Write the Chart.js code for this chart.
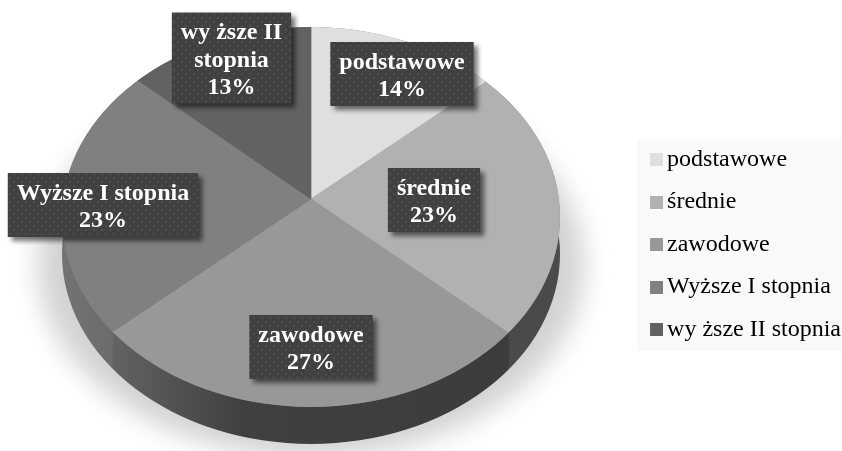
<!DOCTYPE html>
<html><head><meta charset="utf-8">
<style>html,body{margin:0;padding:0;background:#fff}#w{width:842px;height:451px;position:relative}</style>
<script src="https://cdn.jsdelivr.net/npm/chart.js@4"></script>
</head><body><div id="w"><canvas id="c" width="842" height="451"></canvas></div>
<script>
const categories = ['podstawowe', 'średnie', 'zawodowe', 'Wyższe I stopnia', 'wy ższe II stopnia'];
const shares = [13.6, 22.9, 27.1, 23, 13.4];
const labelLines = [['podstawowe'], ['średnie'], ['zawodowe'], ['Wyższe I stopnia'], ['wy ższe II', 'stopnia']];
const sliceColors = ['#dfdfdf', '#b1b1b1', '#989898', '#808080', '#626262'];

const SERIF = '"Liberation Serif","Times New Roman",serif';
const apex = {x: 311, y: 199};
const rim = {x: 311, y: 217, rx: 249, ry: 190};
const wedgeReach = {x: 320, y: 246};
const sideDrop = 37;
const legendShift = 9;
const labelCenters = [[402, 74], [434, 200], [311, 347], [103, 205], [231.5, 58]];

function ell(ctx, dy, grow) {
  ctx.beginPath();
  ctx.ellipse(rim.x, rim.y + dy, rim.rx + (grow || 0), rim.ry, 0, 0, Math.PI * 2);
}
function swatch(color) {
  const s = document.createElement('canvas');
  s.width = 17;
  s.height = 13;
  const g = s.getContext('2d');
  g.fillStyle = color;
  g.fillRect(4, 0, 13, 13);
  return s;
}
function dots(ctx) {
  const p = document.createElement('canvas');
  p.width = p.height = 8;
  const g = p.getContext('2d');
  g.fillStyle = '#404040';
  g.fillRect(0, 0, 8, 8);
  g.fillStyle = '#4f4f4f';
  g.fillRect(1, 1, 2, 2);
  g.fillRect(5, 5, 2, 2);
  return ctx.createPattern(p, 'repeat');
}

const pie3d = {
  id: 'pie3d',
  afterLayout(chart) {
    chart.legend.left += legendShift;
    chart.legend.right += legendShift;
  },
  beforeDraw(chart) {
    const ctx = chart.ctx;
    ctx.save();
    const hit = chart.legend.legendHitBoxes;
    const top = hit[0].top - 9, bottom = hit[hit.length - 1].top + hit[hit.length - 1].height + 9;
    ctx.fillStyle = '#f9f9f9';
    ctx.fillRect(637, top, chart.width - 637, bottom - top);
    ctx.restore();
  },
  beforeDatasetDraw(chart) {
    const ctx = chart.ctx;
    const el = chart.getDatasetMeta(0).data[0];
    ctx.save();
    ctx.save();
    ctx.filter = 'blur(13px)';
    ctx.fillStyle = '#d2d2d2';
    ctx.beginPath();
    ctx.ellipse(rim.x, rim.y + 48, rim.rx + 24, rim.ry + 2, 0, 0, Math.PI * 2);
    ctx.fill();
    ctx.restore();
    const g = ctx.createLinearGradient(rim.x - rim.rx, 0, rim.x + rim.rx, 0);
    g.addColorStop(0, '#737373');
    g.addColorStop(0.10, '#6c6c6c');
    g.addColorStop(0.105, '#626262');
    g.addColorStop(0.36, '#404040');
    g.addColorStop(0.895, '#3c3c3c');
    g.addColorStop(0.90, '#4a4a4a');
    g.addColorStop(1, '#4a4a4a');
    ctx.fillStyle = g;
    ell(ctx, sideDrop);
    ctx.fill();
    ctx.fillStyle = '#808080';
    ell(ctx, 0);
    ctx.fill();
    ell(ctx, 0);
    ctx.clip();
    ctx.translate(apex.x, apex.y);
    ctx.scale(wedgeReach.x / el.outerRadius, wedgeReach.y / el.outerRadius);
    ctx.translate(-el.x, -el.y);
  },
  afterDatasetDraw(chart) {
    chart.ctx.restore();
  },
  afterDraw(chart) {
    const ctx = chart.ctx;
    const fill = dots(ctx);
    const lh = 27.5;
    ctx.save();
    ctx.font = 'bold 24px ' + SERIF;
    ctx.textAlign = 'center';
    ctx.textBaseline = 'middle';
    shares.forEach((v, i) => {
      const lines = labelLines[i].concat(Math.round(v) + '%');
      const w = Math.max(...lines.map(t => ctx.measureText(t).width)) + 18;
      const h = lines.length === 3 ? 91 : 64;
      const [cx, cy] = labelCenters[i];
      ctx.save();
      ctx.shadowColor = 'rgba(0,0,0,0.55)';
      ctx.shadowBlur = 5;
      ctx.shadowOffsetX = 4;
      ctx.shadowOffsetY = 4;
      ctx.fillStyle = fill;
      ctx.fillRect(cx - w / 2, cy - h / 2, w, h);
      ctx.restore();
      ctx.fillStyle = '#ffffff';
      lines.forEach((t, k) => ctx.fillText(t, cx, cy + (k - (lines.length - 1) / 2) * lh + 2.5));
    });
    ctx.restore();
  }
};

new Chart(document.getElementById('c'), {
  type: 'pie',
  data: {
    labels: categories,
    datasets: [{
      data: shares,
      backgroundColor: sliceColors,
      borderColor: sliceColors,
      borderWidth: 0.5,
      clip: false
    }]
  },
  options: {
    responsive: false,
    animation: false,
    events: [],
    layout: {padding: {top: 38, right: 0}},
    plugins: {
      tooltip: {enabled: false},
      legend: {
        position: 'right',
        labels: {
          color: '#505050',
          font: {family: SERIF, size: 24},
          usePointStyle: true,
          pointStyleWidth: 1,
          padding: 18.5,
          generateLabels(chart) {
            return categories.map((t, i) => ({
              text: t,
              fillStyle: sliceColors[i],
              strokeStyle: sliceColors[i],
              pointStyle: swatch(sliceColors[i]),
              index: i
            }));
          }
        }
      }
    }
  },
  plugins: [pie3d]
});
</script></body></html>
